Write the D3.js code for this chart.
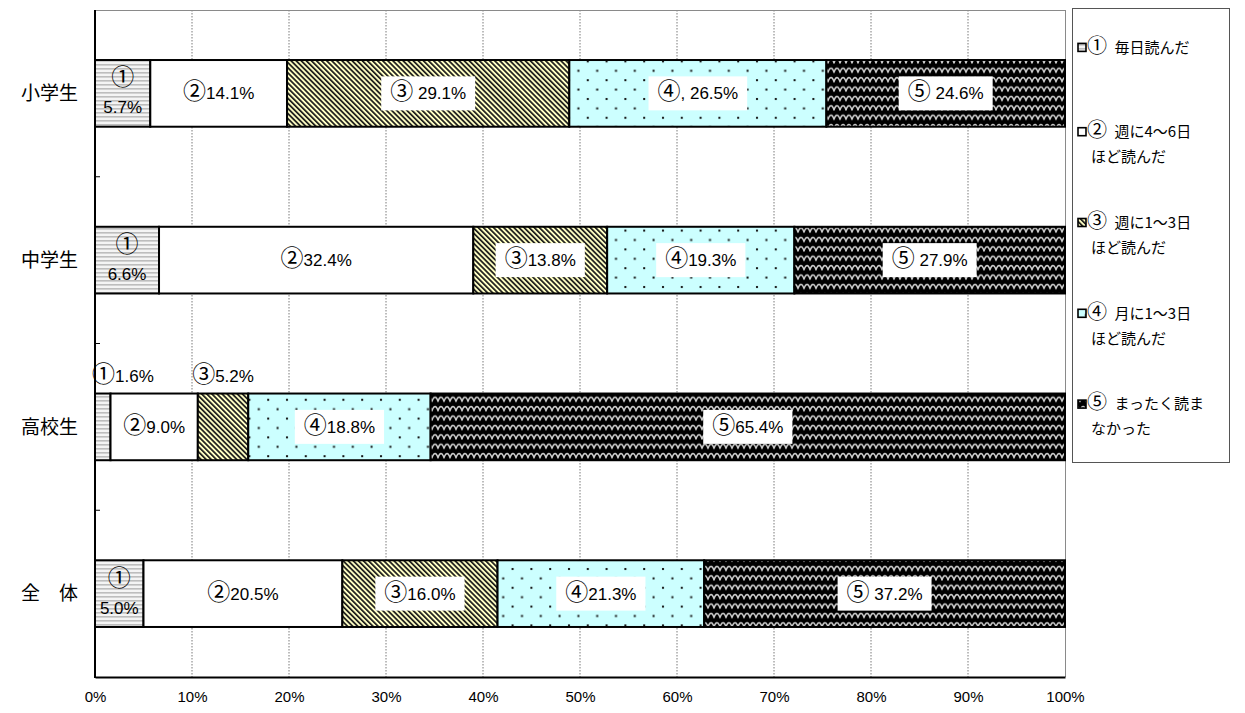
<!DOCTYPE html>
<html><head><meta charset="utf-8">
<script src="https://cdn.jsdelivr.net/npm/d3@7"></script>
<style>body{margin:0;background:#fff}svg{display:block}</style>
</head><body><svg id="c" width="1245" height="713"></svg>
<script>
// ---- data ----
const categories = ["小学生", "中学生", "高校生", "全　体"];
const daily   = [5.7, 6.6, 1.6, 5.0];     // ① 毎日読んだ
const week46  = [14.1, 32.4, 9.0, 20.5];  // ② 週に4～6日ほど読んだ
const week13  = [29.1, 13.8, 5.2, 16.0];  // ③ 週に1～3日ほど読んだ
const month13 = [26.5, 19.3, 18.8, 21.3]; // ④ 月に1～3日ほど読んだ
const never   = [24.6, 27.9, 65.4, 37.2]; // ⑤ まったく読まなかった
const xTicks = [0, 10, 20, 30, 40, 50, 60, 70, 80, 90, 100];
const labels1 = ["①\n5.7%", "①\n6.6%", "①1.6%", "①\n5.0%"];
const labels2 = ["②14.1%", "②32.4%", "②9.0%", "②20.5%"];
const labels3 = ["③ 29.1%", "③13.8%", "③5.2%", "③16.0%"];
const labels4 = ["④, 26.5%", "④19.3%", "④18.8%", "④21.3%"];
const labels5 = ["⑤ 24.6%", "⑤ 27.9%", "⑤65.4%", "⑤ 37.2%"];
const legendLines = [
  ["①\u2002毎日読んだ"],
  ["②\u2002週に4～6日", "ほど読んだ"],
  ["③\u2002週に1～3日", "ほど読んだ"],
  ["④\u2002月に1～3日", "ほど読んだ"],
  ["⑤\u2002まったく読ま", "なかった"]
];
const aboveBar = {"高校生": [0, 2]};

// ---- setup ----
const svg = d3.select("#c");
const FONT = "'Liberation Sans','Noto Sans CJK JP',sans-serif";
const JFONT = "'Noto Sans CJK JP',sans-serif";
const L = 95, R = 1065, T = 10, B = 677;

const keys = ["s0", "s1", "s2", "s3", "s4"];
const series = [daily, week46, week13, month13, never];
const labelSets = [labels1, labels2, labels3, labels4, labels5];
const rows = categories.map((c, i) => {
  const o = {cat: c, idx: i};
  keys.forEach((k, j) => o[k] = series[j][i]);
  return o;
});
const stacked = d3.stack().keys(keys)(rows);

const x = d3.scaleLinear().domain([0, 100]).range([L, R]);
const y = d3.scaleBand().domain(categories).range([T, B]).paddingInner(0.6).paddingOuter(0.3);

// rich text: circled digits in CJK font, larger
function rich(textSel, str, circSize) {
  str.split(/([①-⑤])/).filter(s => s.length).forEach(part => {
    const ts = textSel.append("tspan").text(part);
    if (/[①-⑤]/.test(part)) ts.attr("font-family", JFONT).attr("font-size", circSize);
  });
  return textSel;
}

// ---- patterns ----
const defs = svg.append("defs");
const p0 = defs.append("pattern").attr("id", "p0").attr("patternUnits", "userSpaceOnUse").attr("width", 6).attr("height", 4);
p0.append("rect").attr("width", 6).attr("height", 4).attr("fill", "#f4f4f4");
p0.append("rect").attr("y", 0).attr("width", 6).attr("height", 1.6).attr("fill", "#bdbdbd");
const p1 = defs.append("pattern").attr("id", "p1").attr("patternUnits", "userSpaceOnUse").attr("width", 4).attr("height", 4);
p1.append("rect").attr("width", 4).attr("height", 4).attr("fill", "#ffffff");
const p2 = defs.append("pattern").attr("id", "p2").attr("patternUnits", "userSpaceOnUse")
  .attr("width", 3.6).attr("height", 10).attr("patternTransform", "rotate(-45)");
p2.append("rect").attr("width", 3.6).attr("height", 10).attr("fill", "#ffffc4");
p2.append("rect").attr("x", 0).attr("width", 1.7).attr("height", 10).attr("fill", "#1a1a1a");
const p3 = defs.append("pattern").attr("id", "p3").attr("patternUnits", "userSpaceOnUse").attr("width", 18.8).attr("height", 18.8);
p3.append("rect").attr("width", 18.8).attr("height", 18.8).attr("fill", "#ccffff");
p3.append("rect").attr("x", 4).attr("y", 4).attr("width", 2).attr("height", 2).attr("fill", "#111");
p3.append("rect").attr("x", 13.4).attr("y", 13.4).attr("width", 2).attr("height", 2).attr("fill", "#111");
const p4 = defs.append("pattern").attr("id", "p4").attr("patternUnits", "userSpaceOnUse").attr("width", 12).attr("height", 9.4);
p4.append("rect").attr("width", 12).attr("height", 9.4).attr("fill", "#000");
p4.append("path").attr("d", "M-6,6.5 Q-4.5,2 -3,2.5 Q-1.5,2 0,6.5 Q1.5,2 3,2.5 Q4.5,2 6,6.5 Q7.5,2 9,2.5 Q10.5,2 12,6.5 Q13.5,2 15,2.5 Q16.5,2 18,6.5")
  .attr("fill", "none").attr("stroke", "#d0d0d0").attr("stroke-width", 1.5).attr("stroke-linejoin", "round");

// ---- gridlines ----
svg.append("g").selectAll("line").data(xTicks.filter(t => t > 0 && t < 100)).join("line")
  .attr("x1", d => x(d)).attr("x2", d => x(d)).attr("y1", T).attr("y2", B)
  .attr("stroke", "#7a7a7a").attr("stroke-width", 1).attr("stroke-dasharray", "1.5,1.5");
svg.append("line").attr("x1", L).attr("x2", R).attr("y1", T + 0.5).attr("y2", T + 0.5).attr("stroke", "#8a8a8a");
svg.append("line").attr("x1", R + 0.5).attr("x2", R + 0.5).attr("y1", T).attr("y2", B).attr("stroke", "#8a8a8a");

// ---- bars ----
const gBars = svg.append("g");
stacked.forEach((s, j) => {
  gBars.selectAll(null).data(s).join("rect")
    .attr("x", d => x(d[0])).attr("y", d => y(d.data.cat))
    .attr("width", d => x(d[1]) - x(d[0])).attr("height", y.bandwidth())
    .attr("fill", `url(#p${j})`).attr("stroke", "#000").attr("stroke-width", 2);
});

// ---- axes ----
const xAxis = d3.axisBottom(x).tickValues(xTicks).tickSize(0).tickPadding(14).tickFormat(d => d + "%");
const gx = svg.append("g").attr("transform", `translate(0,${B})`).call(xAxis);
gx.select(".domain").attr("stroke", "#000").attr("stroke-width", 2);
gx.selectAll("text").attr("font-family", FONT).attr("font-size", 15).attr("fill", "#000");

const gy = svg.append("g").attr("transform", `translate(${L},0)`);
gy.append("line").attr("x1", 0).attr("x2", 0).attr("y1", T).attr("y2", B + 1).attr("stroke", "#000").attr("stroke-width", 2);
const bounds = categories.map(c => y(c) - y.step() * y.paddingInner() / 2).slice(1);
gy.selectAll("line.tk").data(bounds).join("line").attr("class", "tk")
  .attr("x1", 0).attr("x2", 5).attr("y1", d => d).attr("y2", d => d).attr("stroke", "#000").attr("stroke-width", 1);
gy.selectAll("text").data(categories).join("text")
  .attr("x", -17).attr("y", d => y(d) + y.bandwidth() / 2).attr("dy", "0.35em")
  .attr("text-anchor", "end").attr("font-family", JFONT).attr("font-size", 19).attr("fill", "#000")
  .text(d => d);

// ---- bar labels ----
const CS = 23;
const gLab = svg.append("g").attr("font-family", FONT).attr("font-size", 17).attr("fill", "#000");
stacked.forEach((s, j) => {
  s.forEach(d => {
    const txt = labelSets[j][d.data.idx];
    const cx = (x(d[0]) + x(d[1])) / 2;
    const cy = y(d.data.cat) + y.bandwidth() / 2;
    const above = (aboveBar[d.data.cat] || []).includes(j);
    if (above) {
      const t = rich(gLab.append("text").attr("y", y(d.data.cat) - 17).attr("dy", "0.35em").attr("text-anchor", "middle"), txt, CS);
      const w = t.node().getComputedTextLength();
      t.attr("x", Math.max(cx, L - 3 + w / 2));
      return;
    }
    const lines = txt.split("\n");
    if (lines.length > 1) {
      lines.forEach((ln, k) => {
        rich(gLab.append("text").attr("x", cx).attr("y", cy + (k === 0 ? -14 : 14)).attr("dy", "0.35em")
          .attr("text-anchor", "middle"), ln, CS);
      });
      return;
    }
    const g = gLab.append("g");
    const rectEl = g.append("rect");
    const t = rich(g.append("text").attr("x", cx).attr("y", cy).attr("dy", "0.35em").attr("text-anchor", "middle"), txt, CS);
    if (j >= 2) {
      const w = t.node().getComputedTextLength();
      rectEl.attr("x", cx - w / 2 - 9).attr("y", cy - 17).attr("width", w + 18).attr("height", 34).attr("fill", "#fff");
    } else rectEl.remove();
  });
});

// ---- legend ----
const lg = svg.append("g");
lg.append("rect").attr("x", 1072.5).attr("y", 8.5).attr("width", 157).attr("height", 454)
  .attr("fill", "#fff").attr("stroke", "#555").attr("stroke-width", 1);
const entryH = 454 / 5;
legendLines.forEach((lines, i) => {
  const cy = 8 + entryH * i + entryH / 2 - (i === 0 ? 6 : 0);
  const y0 = cy - (lines.length - 1) * 12.5;
  lg.append("rect").attr("x", 1078).attr("y", y0 - 4).attr("width", 8).attr("height", 8)
    .attr("fill", `url(#p${i})`).attr("stroke", "#000").attr("stroke-width", 1.6);
  lines.forEach((ln, k) => {
    rich(lg.append("text").attr("x", k === 0 ? 1087 : 1091).attr("y", y0 + k * 25).attr("dy", "0.35em")
      .attr("font-family", JFONT).attr("font-size", 15).attr("fill", "#000"), ln, 20);
  });
});
</script></body></html>
